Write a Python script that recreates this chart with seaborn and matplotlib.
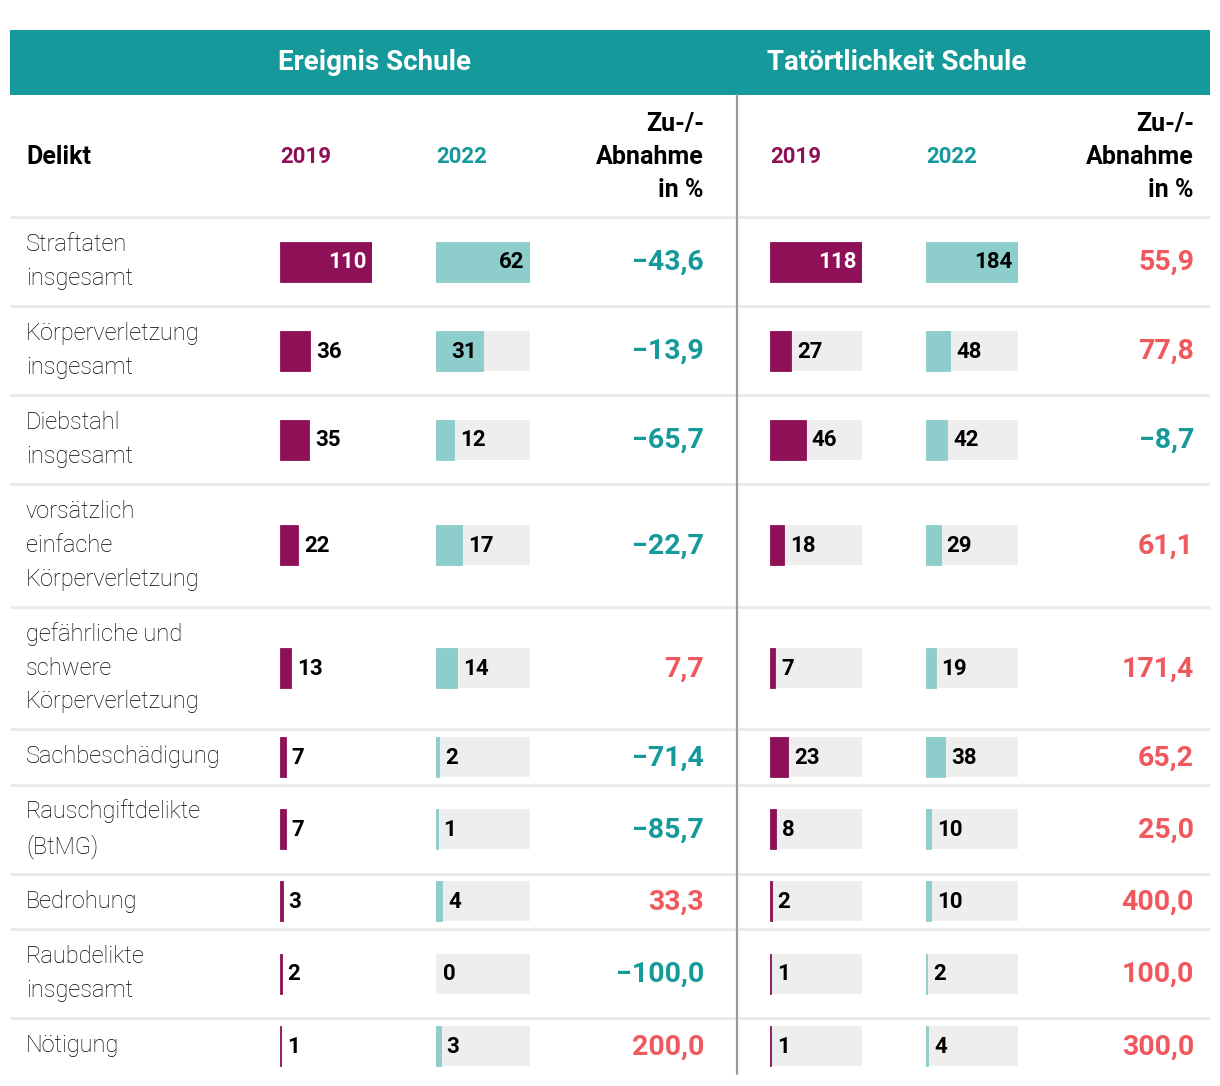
import numpy as np
import pandas as pd
import matplotlib
matplotlib.use("Agg")
import matplotlib.pyplot as plt
import seaborn as sns

# ---------------- data ----------------
delikte = ["Straftaten\ninsgesamt", "Körperverletzung\ninsgesamt", "Diebstahl\ninsgesamt",
           "vorsätzlich\neinfache\nKörperverletzung", "gefährliche und\nschwere\nKörperverletzung",
           "Sachbeschädigung", "Rauschgiftdelikte\n(BtMG)", "Bedrohung",
           "Raubdelikte\ninsgesamt", "Nötigung"]
ereignis_2019 = [110, 36, 35, 22, 13, 7, 7, 3, 2, 1]
ereignis_2022 = [62, 31, 12, 17, 14, 2, 1, 4, 0, 3]
ereignis_pct = [-43.6, -13.9, -65.7, -22.7, 7.7, -71.4, -85.7, 33.3, -100.0, 200.0]
tatort_2019 = [118, 27, 46, 18, 7, 23, 8, 2, 1, 1]
tatort_2022 = [184, 48, 42, 29, 19, 38, 10, 10, 2, 4]
tatort_pct = [55.9, 77.8, -8.7, 61.1, 171.4, 65.2, 25.0, 400.0, 100.0, 300.0]
group_titles = ["Ereignis Schule", "Tatörtlichkeit Schule"]
year_labels = ["2019", "2022"]
col_delikt = "Delikt"
col_change = "Zu-/-\nAbnahme\nin %"

# ---------------- style ----------------
TEAL = "#16999a"
PURPLE = "#8e1158"
LTEAL = "#8dcdcb"
GREY = "#eeeeee"
RED = "#ef585d"
SEP = "#ebebeb"
DIV = "#9a9a9a"

sns.set_theme(style="white")
plt.rcParams["font.family"] = ["Roboto", "DejaVu Sans"]

W, H = 1220, 1086
DPI = 100
fig = plt.figure(figsize=(W / DPI, H / DPI), dpi=DPI)
fig.patch.set_facecolor("white")

# ---------------- layout (pixel space) ----------------
top = 217
nlines = [d.count("\n") + 1 for d in delikte]
heights = np.array([22 + 33.5 * n for n in nlines])
bounds = top + np.concatenate([[0], np.cumsum(heights)])
centers = (bounds[:-1] + bounds[1:]) / 2
bar_h = 40
bar_width_rel = bar_h / np.min(np.diff(centers))

base = fig.add_axes([0, 0, 1, 1])
base.set_xlim(0, W)
base.set_ylim(H, 0)
base.axis("off")

# header band
base.add_patch(plt.Rectangle((10, 30), 1200, 65, color=TEAL, lw=0, zorder=1))
base.text(375, 62, group_titles[0], color="white", fontsize=20, fontweight="bold",
          ha="center", va="center")
base.text(897, 62, group_titles[1], color="white", fontsize=20, fontweight="bold",
          ha="center", va="center")

# column headers
base.text(26, 157, col_delikt, fontsize=18, fontweight="bold", ha="left", va="center", color="black")
for xs, xp in [((280, 436), 704), ((770, 926), 1194)]:
    base.text(xs[0], 157, year_labels[0], fontsize=16, fontweight="bold", color=PURPLE,
              ha="left", va="center")
    base.text(xs[1], 157, year_labels[1], fontsize=16, fontweight="bold", color=TEAL,
              ha="left", va="center")
    base.text(xp, 157, col_change, fontsize=18, fontweight="bold", color="black",
              ha="right", va="center", linespacing=1.47)

# separators
for yb in bounds[:-1]:
    base.plot([10, 1210], [yb, yb], color=SEP, lw=2.2, solid_capstyle="butt", zorder=0)
# vertical divider
base.plot([737, 737], [95, bounds[-1]], color=DIV, lw=1.6, zorder=3)

# row labels
for yc, lab in zip(centers, delikte):
    base.text(26, yc, lab, fontsize=17, fontweight="light", color="black",
              ha="left", va="center", linespacing=1.6)

# percentages
def fmt_pct(v):
    s = f"{abs(v):.1f}".replace(".", ",")
    return ("\u2212" + s) if v < 0 else s

for xp, pcts in [(704, ereignis_pct), (1194, tatort_pct)]:
    for yc, p in zip(centers, pcts):
        base.text(xp, yc + 1, fmt_pct(p), fontsize=20.5, fontweight="bold",
                  color=TEAL if p < 0 else RED, ha="right", va="center")

# ---------------- bar columns ----------------
columns = [
    (280, 92, ereignis_2019, PURPLE, False, "white"),
    (436, 94, ereignis_2022, LTEAL, True, "black"),
    (770, 92, tatort_2019, PURPLE, True, "white"),
    (926, 92, tatort_2022, LTEAL, True, "black"),
]

for x0, w, vals, col, has_bg, inner_col in columns:
    ax = fig.add_axes([x0 / W, 0, w / W, 1])
    ax.patch.set_alpha(0)
    vmax = max(vals)
    df = pd.DataFrame({"wert": vals, "pos": centers, "max": [vmax] * len(vals)})
    if has_bg:
        sns.barplot(data=df, x="max", y="pos", orient="h", native_scale=True,
                    width=bar_width_rel, color=GREY, saturation=1, linewidth=0,
                    errorbar=None, ax=ax)
    n_bg = len(ax.patches)
    sns.barplot(data=df, x="wert", y="pos", orient="h", native_scale=True,
                width=bar_width_rel, color=col, saturation=1, linewidth=0.6,
                edgecolor=col, errorbar=None, ax=ax)
    for p in ax.patches[n_bg:]:
        if p.get_width() == 0:
            p.set_linewidth(0)
    ax.set_xlim(0, vmax)
    ax.set_ylim(H, 0)
    ax.axis("off")
    for v, yc in zip(vals, centers):
        if v / vmax >= 0.45:
            ax.annotate(str(v), xy=(v, yc + 1), xytext=(-6, 0), textcoords="offset pixels",
                        ha="right", va="center", fontsize=16, fontweight="bold",
                        color=inner_col)
        else:
            ax.annotate(str(v), xy=(v, yc + 1), xytext=(6 if v > 0 else 7, 0),
                        textcoords="offset pixels", ha="left", va="center",
                        fontsize=16, fontweight="bold", color="black")

fig.savefig("out.png", dpi=DPI, facecolor="white")
